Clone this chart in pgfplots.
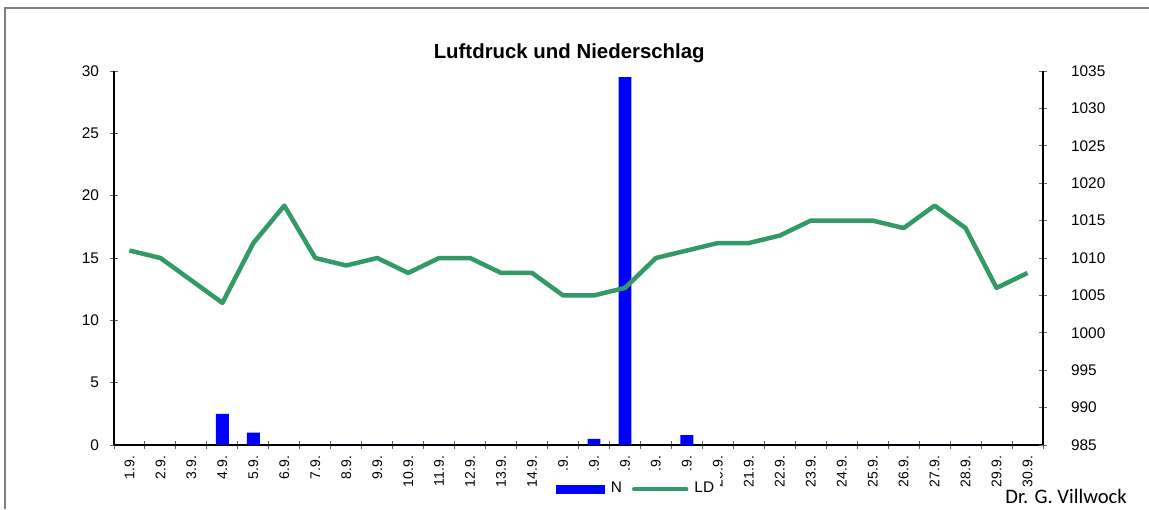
\documentclass[border=0pt]{standalone}
\usepackage{fontspec}
\setmainfont{Liberation Sans}
\newfontfamily\carlito{Carlito}
\usepackage{pgfplots}
\pgfplotsset{compat=1.18}
\definecolor{ldgreen}{RGB}{51,153,102}
\definecolor{nblue}{RGB}{0,0,255}
\begin{document}
\begin{tikzpicture}[x=1pt,y=1pt]
\useasboundingbox (0,0) rectangle (574.5,254.5);
\draw[gray, line width=1pt] (2.5,0) -- (2.5,250.5) -- (574.5,250.5);
\begin{axis}[
  at={(57pt,32pt)}, anchor=south west, scale only axis,
  width=464.5pt, height=187pt,
  xmin=0.5, xmax=30.5, ymin=0, ymax=30,
  axis x line=bottom, axis y line=left,
  axis line style={-, line width=0.7pt},
  tick align=center,
  major tick length=4pt, minor tick length=4pt,
  xtick={1,...,30},
  xticklabels={1.9.,2.9.,3.9.,4.9.,5.9.,6.9.,7.9.,8.9.,9.9.,10.9.,11.9.,12.9.,13.9.,14.9.,15.9.,16.9.,17.9.,18.9.,19.9.,20.9.,21.9.,22.9.,23.9.,24.9.,25.9.,26.9.,27.9.,28.9.,29.9.,30.9.},
  major x tick style={draw=none},
  minor xtick={0.5,1.5,...,30.5},
  minor x tick style={draw=gray!80!black, line width=0.5pt},
  ytick={0,5,...,30},
  y tick style={draw=gray!80!black, line width=0.5pt},
  x tick label style={rotate=90, anchor=east, font=\fontsize{7}{8}\selectfont},
  y tick label style={font=\fontsize{7.7}{9}\selectfont, xshift=-2pt},
  /pgf/number format/assume math mode=true,
  title={Luftdruck und Niederschlag},
  title style={font=\bfseries\fontsize{10.2}{12}\selectfont, at={(0.49,1)}, anchor=base, yshift=0.5pt},
  legend style={at={(0.473,-0.118)}, anchor=west, fill=white, draw=none,
    font=\fontsize{7.7}{9}\selectfont, inner xsep=1pt, inner ysep=4pt,
    /tikz/every even column/.append style={column sep=3pt},
    /tikz/every odd column/.append style={column sep=1pt}},
  legend columns=2,
]
\addplot[ybar, bar width=6.4pt, fill=nblue, draw=none,
  legend image code/.code={\fill[nblue] (0pt,-2.3pt) rectangle (24.5pt,2.3pt);}]
  coordinates {(1,0) (2,0) (3,0) (4,2.5) (5,1.0) (6,0) (7,0) (8,0) (9,0) (10,0)
  (11,0) (12,0) (13,0) (14,0) (15,0) (16,0.5) (17,29.5) (18,0) (19,0.8) (20,0)
  (21,0) (22,0) (23,0) (24,0) (25,0) (26,0) (27,0) (28,0) (29,0) (30,0)};
\addlegendentry{N}
\addlegendimage{legend image code/.code={\draw[ldgreen, line width=2.25pt, line cap=round] (0pt,0pt) -- (26pt,0pt);}}
\addlegendentry{LD}
\end{axis}
\begin{axis}[
  at={(57pt,32pt)}, anchor=south west, scale only axis,
  width=464.5pt, height=187pt,
  xmin=0.5, xmax=30.5, ymin=985, ymax=1035,
  axis x line=none, axis y line=right,
  axis line style={-, line width=0.7pt},
  tick align=center, major tick length=4pt,
  ytick={985,990,...,1035},
  y tick style={draw=gray!80!black, line width=0.5pt},
  y tick label style={font=\fontsize{7.7}{9}\selectfont, xshift=8.5pt},
  /pgf/number format/assume math mode=true,
  /pgf/number format/1000 sep={},
]
\addplot[ldgreen, line width=2.25pt, line join=round] coordinates {
  (1,1011) (2,1010) (3,1007) (4,1004) (5,1012) (6,1017) (7,1010) (8,1009) (9,1010) (10,1008)
  (11,1010) (12,1010) (13,1008) (14,1008) (15,1005) (16,1005) (17,1006) (18,1010) (19,1011) (20,1012)
  (21,1012) (22,1013) (23,1015) (24,1015) (25,1015) (26,1014) (27,1017) (28,1014) (29,1006) (30,1008)};
\end{axis}
\node[anchor=base west, font=\carlito\fontsize{10.3}{12}\selectfont, inner sep=0pt] at (502.5,3) {Dr. G. Villwock};
\end{tikzpicture}
\end{document}
